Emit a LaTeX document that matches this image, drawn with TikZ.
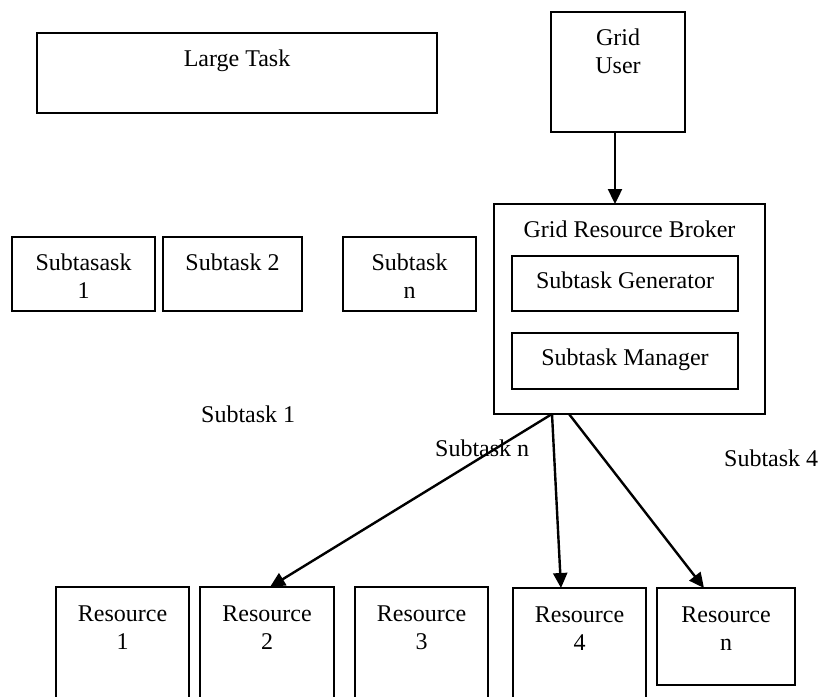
\documentclass[tikz,border=0pt]{standalone}
\usepackage{fontspec}
\setmainfont{Liberation Serif}
\usetikzlibrary{arrows.meta,calc}
\begin{document}
\begin{tikzpicture}[x=1pt,y=-1pt,
  box/.style={draw, line width=1.8pt, inner sep=0pt, outer sep=0pt, anchor=north west},
  txt/.style={font=\fontsize{24}{28}\selectfont, align=center, inner sep=0pt},
  arr/.style={line width=2.4pt, -{Triangle[length=15pt,width=14pt]}}]
\useasboundingbox (0,0) rectangle (819,696);
\clip (0,0) rectangle (819,696);
% boxes
\node[box, minimum width=400pt, minimum height=80pt] (large) at (37,33) {};
\node[box, minimum width=134pt, minimum height=120pt] (user) at (551,12) {};
\node[box, minimum width=271pt, minimum height=210pt] (broker) at (494,204) {};
\node[box, minimum width=226pt, minimum height=55pt] (gen) at (512,256) {};
\node[box, minimum width=226pt, minimum height=56pt] (mgr) at (512,333) {};
\node[box, minimum width=143pt, minimum height=74pt] (s1) at (12,237) {};
\node[box, minimum width=139pt, minimum height=74pt] (s2) at (163,237) {};
\node[box, minimum width=133pt, minimum height=74pt] (sn) at (343,237) {};
\node[box, minimum width=133pt, minimum height=130pt] (r1) at (56,587) {};
\node[box, minimum width=134pt, minimum height=130pt] (r2) at (200,587) {};
\node[box, minimum width=133pt, minimum height=130pt] (r3) at (355,587) {};
\node[box, minimum width=133pt, minimum height=130pt] (r4) at (513,588) {};
\node[box, minimum width=138pt, minimum height=97pt] (rn) at (657,588) {};
% texts
\node[txt, anchor=north] (largeT) at ($(large.north)+(0,17)$) {Large Task};
\node[txt, anchor=north] (userT) at ($(user.north)+(0,17)$) {Grid\\User};
\node[txt, anchor=north] (brokerT) at ($(broker.north)+(0,17)$) {Grid Resource Broker};
\node[txt, anchor=north] (genT) at ($(gen.north)+(0,16)$) {Subtask Generator};
\node[txt, anchor=north] (mgrT) at ($(mgr.north)+(0,16)$) {Subtask Manager};
\node[txt, anchor=north] (s1T) at ($(s1.north)+(0,17)$) {Subtasask\\1};
\node[txt, anchor=north] (s2T) at ($(s2.north)+(0,17)$) {Subtask 2};
\node[txt, anchor=north] (snT) at ($(sn.north)+(0,17)$) {Subtask\\n};
\node[txt, anchor=north] (r1T) at ($(r1.north)+(0,19)$) {Resource\\1};
\node[txt, anchor=north] (r2T) at ($(r2.north)+(0,19)$) {Resource\\2};
\node[txt, anchor=north] (r3T) at ($(r3.north)+(0,19)$) {Resource\\3};
\node[txt, anchor=north] (r4T) at ($(r4.north)+(0,19)$) {Resource\\4};
\node[txt, anchor=north] (rnT) at ($(rn.north)+(0,19)$) {Resource\\n};
% floating labels
\node[txt, anchor=base west] (l1) at (201,422) {Subtask 1};
\node[txt, anchor=base west] (ln) at (435,456) {Subtask n};
\node[txt, anchor=base west] (l4) at (724,466) {Subtask 4};
% arrows
\draw[arr] ([xshift=-3pt]user.south) -- ([xshift=-3pt]user.south |- broker.north);
\draw[arr] ([xshift=-77.5pt]broker.south) -- ([xshift=3pt]r2.north);
\draw[arr] ([xshift=-77.5pt]broker.south) -- ([xshift=-18.5pt]r4.north);
\draw[arr] ([xshift=-60.5pt]broker.south) -- ([xshift=-22pt]rn.north);
\end{tikzpicture}
\end{document}
